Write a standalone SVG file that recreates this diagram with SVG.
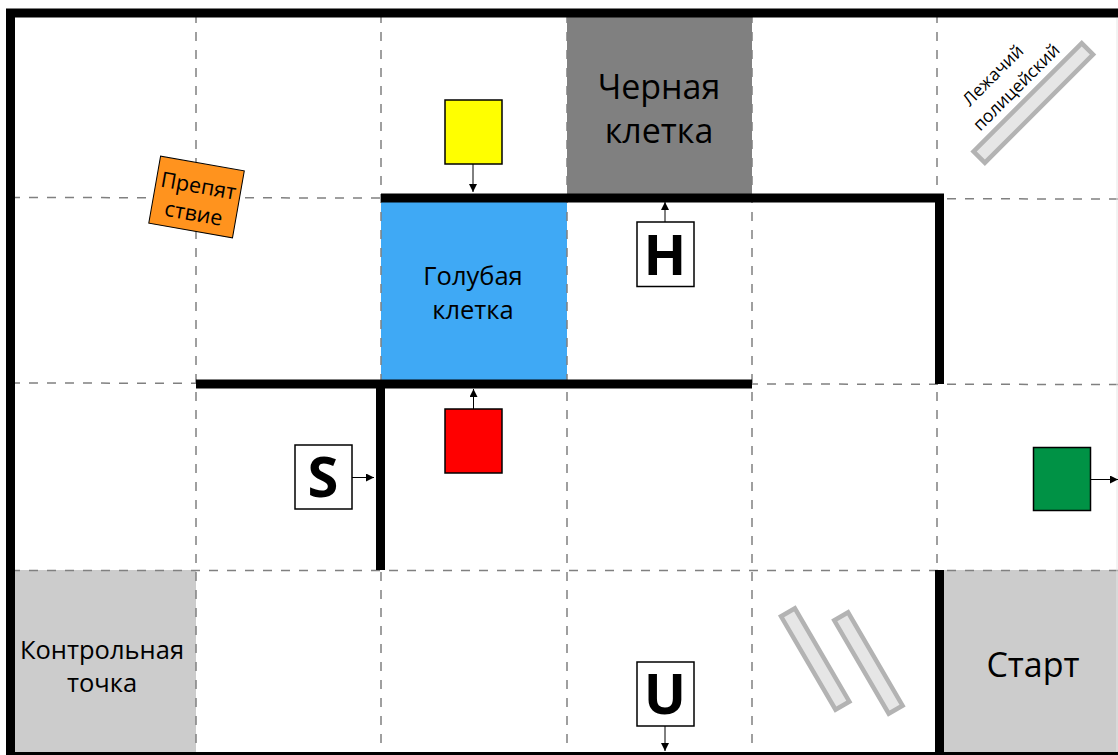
<svg xmlns="http://www.w3.org/2000/svg" width="1118" height="755" viewBox="0 0 1118 755">
<style>
text{font-family:"Open Sans","Noto Sans",sans-serif;fill:#000;text-anchor:middle}
.grid{stroke:#808080;stroke-width:1.5;stroke-dasharray:9 9;fill:none}
.wall{stroke:#000;stroke-width:9;fill:none}
.bump{fill:#e6e6e6;stroke:#b3b3b3;stroke-width:4.500}
.box{stroke:#000;stroke-width:1.5}
.conn{stroke:#000;stroke-width:1;fill:none;marker-end:url(#a)}
.big{font-size:56px;font-weight:700}
</style>
<defs><marker id="a" markerUnits="userSpaceOnUse" markerWidth="9" markerHeight="9" refX="8" refY="4" orient="auto"><path d="M0 0L8 4L0 8Z" fill="#000"/></marker></defs>
<rect width="1118" height="755" fill="#fff"/>
<g id="cell-black"><rect x="567" y="14" width="185" height="183" fill="#808080"/><text x="659" y="99" font-size="34">Черная</text><text x="659" y="143" font-size="34">клетка</text></g>
<g id="cell-blue"><rect x="381" y="197" width="186" height="186" fill="#3fa9f5"/><text x="473" y="285" font-size="25.500">Голубая</text><text x="473" y="319" font-size="25.500">клетка</text></g>
<g id="cell-checkpoint"><rect x="11" y="570" width="185" height="185" fill="#ccc"/><text x="102" y="659" font-size="25.500">Контрольная</text><text x="102" y="692" font-size="25.500">точка</text></g>
<g id="cell-start"><rect x="939" y="570" width="179" height="185" fill="#ccc"/><text x="1033" y="677" font-size="34">Старт</text></g>
<g id="grid">
<path class="grid" d="M196 14V755M381 14V755M567 14V755M752 14V755M937 14V755"/>
<path class="grid" d="M11 197.500L1118 199M11 383L1118 384.500M11 570.500L1118 570.500"/>
<path d="M1117 18V752" stroke="#e6e6e6" stroke-width="1" fill="none"/>
</g>
<g id="walls">
<path class="wall" d="M10.500 755V13H1118M6 756.500H1118"/>
<path class="wall" d="M381 198H944M939.500 193.500V384"/>
<path class="wall" d="M196 384H752M380.500 380V570"/>
<path class="wall" d="M939.500 570V755"/>
</g>
<g id="connectors">
<path class="conn" d="M473 164V192"/>
<path class="conn" d="M665 222V202"/>
<path class="conn" d="M473.500 409V389"/>
<path class="conn" d="M352 477.500H374"/>
<path class="conn" d="M1091 479.500H1118"/>
<path class="conn" d="M665 726V751"/>
</g>
<g id="yellow"><rect class="box" x="445" y="100" width="57" height="64" fill="#ff0"/></g>
<g id="red"><rect class="box" x="445" y="409" width="57" height="64" fill="#f00"/></g>
<g id="green"><rect class="box" x="1033.500" y="447.500" width="57" height="63" fill="#009245"/></g>
<g id="sign-h"><rect class="box" x="637" y="222" width="57" height="64.500" fill="#fff"/><text class="big" x="665" y="275">H</text></g>
<g id="sign-s"><rect class="box" x="295" y="445" width="57" height="64" fill="#fff"/><text class="big" x="323" y="497">S</text></g>
<g id="sign-u"><rect class="box" x="637" y="662" width="57" height="64" fill="#fff"/><text class="big" x="665" y="714">U</text></g>
<g id="obstacle" transform="rotate(10 196.300 197.200)"><rect x="154" y="163" width="85" height="68" fill="#ff931e" stroke="#000" stroke-width="1"/><text x="196.500" y="193" font-size="21.500">Препят</text><text x="196.500" y="221" font-size="21.500">ствие</text></g>
<g id="bump-top"><rect class="bump" x="-76.500" y="-8" width="153" height="16" transform="translate(1033.300 103) rotate(-45)"/><g transform="translate(1012 83) rotate(-45)"><text x="-8" y="-13" font-size="17.500">Лежачий</text><text x="0" y="12" font-size="17.500">полицейский</text></g></g>
<g id="bump-1"><rect class="bump" x="-54" y="-8" width="108" height="16" transform="translate(815.200 659) rotate(59.700)"/></g>
<g id="bump-2"><rect class="bump" x="-54" y="-8" width="108" height="16" transform="translate(868.400 663) rotate(59.700)"/></g>
</svg>
